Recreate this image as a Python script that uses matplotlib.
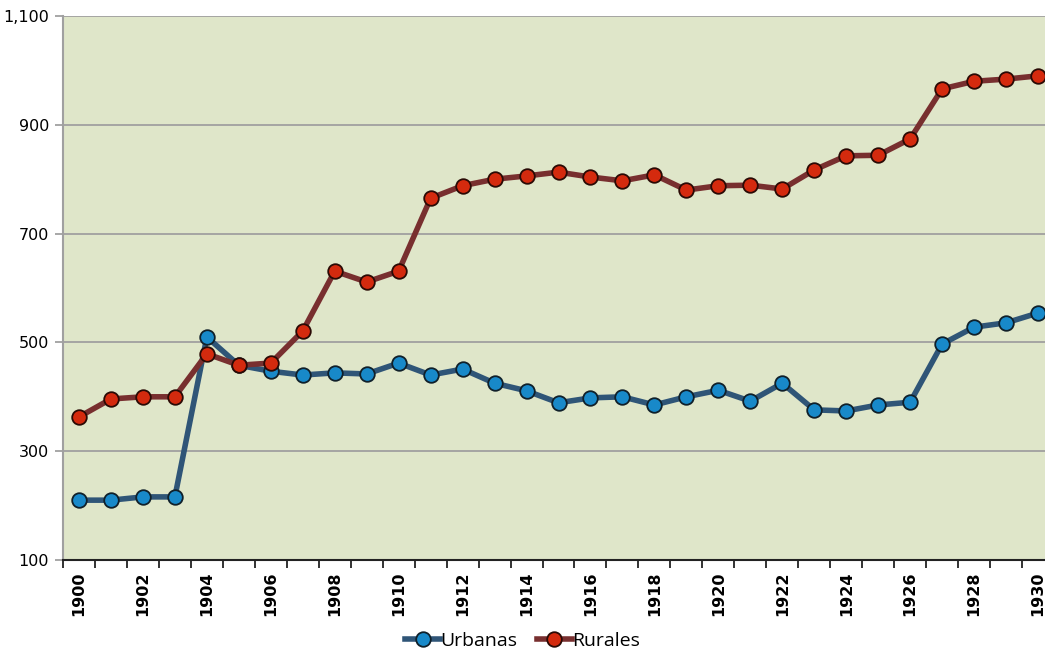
import matplotlib
matplotlib.use("Agg")
import matplotlib.pyplot as plt
import numpy as np

years = list(range(1900, 1931))
urbanas = [210, 210, 216, 216, 510, 458, 447, 440, 444, 442, 462, 440, 451, 425, 411, 389,
           398, 400, 385, 400, 412, 392, 425, 376, 374, 385, 390, 497, 528, 536, 554]
rurales = [363, 396, 400, 400, 479, 458, 462, 521, 631, 611, 631, 765, 788, 800, 806, 813,
           804, 797, 808, 780, 788, 789, 782, 817, 843, 844, 874, 966, 980, 984, 990]
yticks = [100, 300, 500, 700, 900, 1100]

fig = plt.figure(figsize=(10.45, 6.5), dpi=100)
ax = fig.add_axes([63/1045, 1 - 560/650, (1054 - 63)/1045, (560 - 16)/650])
ax.set_facecolor("#DFE6C9")

x = np.arange(len(years))
ax.plot(x, urbanas, color="#2F5577", lw=4, marker="o", ms=10.5,
        mfc="#1889C9", mec="#10202A", mew=1.3, label="Urbanas", zorder=3, clip_on=False)
ax.plot(x, rurales, color="#782F2F", lw=4, marker="o", ms=10.5,
        mfc="#D42A0E", mec="#2A0A05", mew=1.3, label="Rurales", zorder=3, clip_on=False)

ax.set_xlim(-0.5, len(years) - 0.5)
ax.set_ylim(100, 1100)
ax.set_yticks(yticks)
ax.set_yticklabels([f"{v:,}" for v in yticks], fontsize=11.5, family="DejaVu Sans")
ax.yaxis.grid(True, color="#A0A0A0", lw=1.3)
ax.set_axisbelow(True)

ax.set_xticks(np.arange(-0.5, len(years), 1.0))
ax.set_xticklabels([])
ax.set_xticks(x[::2], minor=True)
ax.set_xticklabels([str(y) for y in years[::2]], minor=True, rotation=90,
                   fontsize=11.5, fontweight="bold", family="DejaVu Sans")
ax.tick_params(axis="x", which="major", length=6, width=1.3, color="#222222", direction="out")
ax.tick_params(axis="x", which="minor", length=0, pad=8)
ax.tick_params(axis="y", length=6, width=1.3, color="#A0A0A0", pad=4)

for s in ["top", "right"]:
    ax.spines[s].set_visible(False)
ax.spines["left"].set_color("#A0A0A0")
ax.spines["left"].set_linewidth(1.5)
ax.spines["bottom"].set_color("#222222")
ax.spines["bottom"].set_linewidth(1.5)

leg = fig.legend(loc="center", bbox_to_anchor=(0.5, 1 - 641/650), ncol=2, frameon=False,
                 handlelength=1.8, handletextpad=0.0, columnspacing=1.0,
                 prop={"family": "Open Sans", "size": 14})

fig.savefig("out.png", dpi=100)
